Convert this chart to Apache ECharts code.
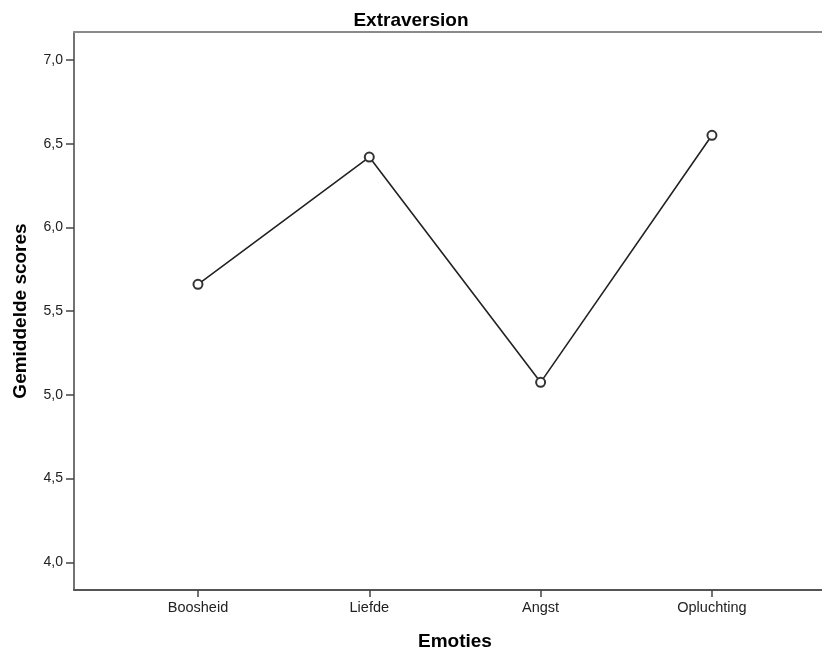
<!DOCTYPE html>
<html>
<head>
<meta charset="utf-8">
<script src="https://cdn.jsdelivr.net/npm/echarts@6/dist/echarts.min.js"></script>
<style>html,body{margin:0;padding:0;background:#fff}#c{width:822px;height:652px}</style>
</head>
<body>
<div id="c"></div>
<script>
var titleText = 'Extraversion';
var xName = 'Emoties';
var yName = 'Gemiddelde scores';
var categories = ['Boosheid', 'Liefde', 'Angst', 'Opluchting'];
var values = [5.66, 6.42, 5.075, 6.55];
var yTicks = [4.0, 4.5, 5.0, 5.5, 6.0, 6.5, 7.0];
var yMin = 3.835, yMax = 7.167;

var font = 'Liberation Sans, Arial, sans-serif';
var chart = echarts.init(document.getElementById('c'), null, {renderer: 'canvas'});
var fmt = function (v) { return Number(v).toFixed(1).replace('.', ','); };
chart.setOption({
  animation: false,
  backgroundColor: '#fff',
  title: {
    text: titleText, left: 'center', top: 6,
    textStyle: {fontFamily: font, fontSize: 19, fontWeight: 'bold', color: '#000'}
  },
  grid: [
    {left: 74, top: 32, right: 0, bottom: 62, containLabel: false, outerBoundsMode: 'none'},
    {left: 112.3, top: 32, right: 24.4, bottom: 62, containLabel: false, outerBoundsMode: 'none'}
  ],
  xAxis: [
    {gridIndex: 0, type: 'value', min: 0, max: 1, position: 'bottom',
     axisLine: {show: true, lineStyle: {color: '#555', width: 2}},
     axisTick: {show: false}, axisLabel: {show: false}, splitLine: {show: false}},
    {gridIndex: 1, type: 'category', data: categories, boundaryGap: true,
     axisLine: {show: false},
     axisTick: {show: true, alignWithLabel: true, length: 7, lineStyle: {color: '#444', width: 1.5}},
     axisLabel: {margin: 10, fontFamily: font, fontSize: 14.5, color: '#222'},
     name: xName, nameLocation: 'middle', nameGap: 42,
     nameTextStyle: {fontFamily: font, fontSize: 19, fontWeight: 'bold', color: '#000'}},
    {gridIndex: 0, type: 'value', min: 0, max: 1, position: 'top',
     axisLine: {show: true, lineStyle: {color: '#8a8a8a', width: 2}},
     axisTick: {show: false}, axisLabel: {show: false}, splitLine: {show: false}}
  ],
  yAxis: [
    {gridIndex: 0, type: 'value', min: yMin, max: yMax,
     axisLine: {show: true, lineStyle: {color: '#444', width: 1.5}},
     axisTick: {show: true, length: 8, customValues: yTicks, lineStyle: {color: '#444', width: 1.5}},
     axisLabel: {margin: 11, customValues: yTicks, formatter: fmt, fontFamily: font, fontSize: 14, color: '#222'},
     splitLine: {show: false},
     name: yName, nameLocation: 'middle', nameGap: 44,
     nameTextStyle: {fontFamily: font, fontSize: 19, fontWeight: 'bold', color: '#000'}},
    {gridIndex: 1, type: 'value', min: yMin, max: yMax, show: false, splitLine: {show: false}}
  ],
  series: [{
    type: 'line', xAxisIndex: 1, yAxisIndex: 1, data: values,
    symbol: 'emptyCircle', symbolSize: 9,
    lineStyle: {color: '#222', width: 1.6},
    itemStyle: {color: '#333', borderColor: '#333', borderWidth: 1.3}
  }]
});
</script>
</body>
</html>
